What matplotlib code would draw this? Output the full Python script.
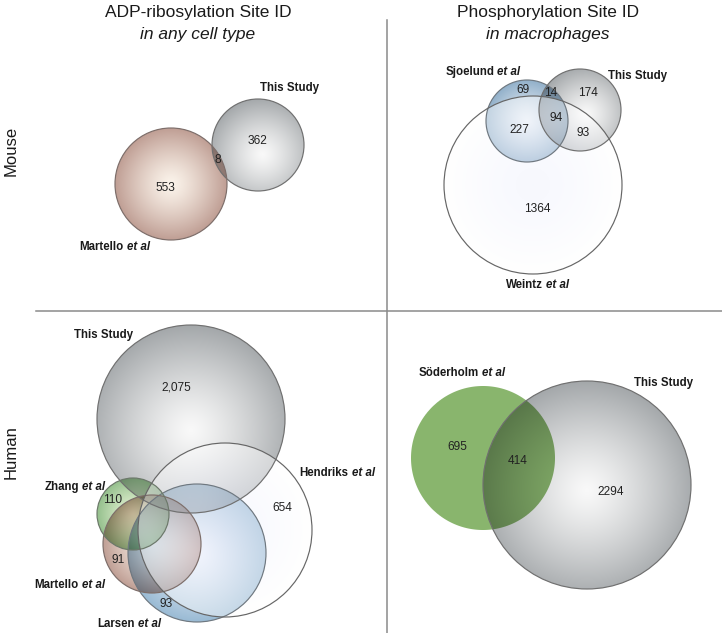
import numpy as np
import matplotlib
matplotlib.use("Agg")
import matplotlib.pyplot as plt
from matplotlib.patches import Circle

plt.rcParams['font.family'] = ['Liberation Sans', 'DejaVu Sans']

# ---------------- data ----------------
panel_titles = ["ADP-ribosylation Site ID", "Phosphorylation Site ID"]
panel_subtitles = ["in any cell type", "in macrophages"]
row_labels = ["Mouse", "Human"]

# Mouse, ADP-ribosylation: sets and region counts
m_adp_sets = [("This Study", ""), ("Martello", "et al")]
m_adp_counts = ["362", "8", "553"]

# Mouse, phosphorylation
m_ph_sets = [("Sjoelund", "et al"), ("This Study", ""), ("Weintz", "et al")]
m_ph_counts = ["69", "14", "174", "227", "94", "93", "1364"]

# Human, ADP-ribosylation
h_adp_sets = [("This Study", ""), ("Hendriks", "et al"), ("Zhang", "et al"),
              ("Martello", "et al"), ("Larsen", "et al")]
h_adp_counts = ["2,075", "654", "110", "91", "93"]

# Human, phosphorylation
h_ph_sets = [("Söderholm", "et al"), ("This Study", "")]
h_ph_counts = ["695", "414", "2294"]

# ---------------- layout (pixel space) ----------------
W, H = 722, 633
fig = plt.figure(figsize=(W / 100, H / 100), dpi=100)
ax = fig.add_axes([0, 0, 1, 1])
ax.set_xlim(0, W)
ax.set_ylim(H, 0)
ax.axis('off')

# (centre colour, edge colour, blend mode, alpha)
PAL = {
    'gray':  ((0.975, 0.975, 0.975), (0.64, 0.655, 0.665), 'mul', 1.0),
    'rose':  ((0.985, 0.955, 0.92), (0.75, 0.62, 0.58), 'mul', 1.0),
    'blue':  ((0.91, 0.935, 0.965), (0.57, 0.69, 0.79), 'mul', 1.0),
    'lblue': ((0.94, 0.955, 0.99), (0.60, 0.73, 0.83), 'mul', 1.0),
    'green': ((0.91, 0.96, 0.84), (0.58, 0.75, 0.55), 'mul', 1.0),
    'sgreen': ((0.54, 0.71, 0.43), (0.54, 0.71, 0.43), 'mul', 1.0),
    'white': ((0.93, 0.94, 0.99), (1.0, 1.0, 1.0), 'over', 0.45),
}

SS = 2
canvas = np.ones((H * SS, W * SS, 3))
gx = (np.arange(W * SS) + 0.5) / SS
gy = (np.arange(H * SS) + 0.5) / SS


def grad_circle(cx, cy, r, pal, outline='#707070', lw=0.85, off=(0.0, 0.0), power=1.25):
    cc, ce, mode, a = PAL[pal]
    cc, ce = np.asarray(cc, float), np.asarray(ce, float)
    j0, j1 = int(max(0, (cx - r - 2) * SS)), int(min(W * SS, (cx + r + 2) * SS))
    i0, i1 = int(max(0, (cy - r - 2) * SS)), int(min(H * SS, (cy + r + 2) * SS))
    X, Y = np.meshgrid(gx[j0:j1], gy[i0:i1])
    d0 = np.hypot(X - cx, Y - cy)
    cov = np.clip((r - d0) * SS + 0.5, 0, 1)[..., None]
    hx, hy = cx + off[0] * r, cy + off[1] * r
    t = np.clip(np.hypot(X - hx, Y - hy) / (r * (1 + np.hypot(*off))), 0, 1) ** power
    col = cc * (1 - t[..., None]) + ce * t[..., None]
    sub = canvas[i0:i1, j0:j1]
    if mode == 'mul':
        canvas[i0:i1, j0:j1] = sub * (1 - cov + cov * col)
    else:
        ca = cov * a
        canvas[i0:i1, j0:j1] = sub * (1 - ca) + ca * col
    if outline:
        ax.add_patch(Circle((cx, cy), r, facecolor='none', edgecolor=outline, lw=lw, zorder=5))


def set_label(x, y, name, suffix, fs=8.3):
    t1 = ax.text(x, y, name, fontsize=fs, fontweight='bold', ha='left', va='center',
                 color='#1a1a1a', zorder=20)
    r = fig.canvas.get_renderer()
    w = t1.get_window_extent(r).width
    if suffix:
        t2 = ax.annotate(suffix, xy=(1, 0), xycoords=t1, xytext=(2.3, 0),
                         textcoords='offset points', fontsize=fs, fontweight='bold',
                         fontstyle='italic', ha='left', va='bottom', color='#1a1a1a', zorder=20)
        w += t2.get_window_extent(r).width + 2.3 * 100 / 72
    t1.set_x(x - w / 2)


def count(x, y, s, fs=8.6):
    ax.text(x, y, s, fontsize=fs, ha='center', va='center', color='#222222', zorder=20)


# ---------------- titles, row labels, dividers ----------------
for cx, t, st in zip([198, 548], panel_titles, panel_subtitles):
    ax.text(cx, 13, t, fontsize=12.5, ha='center', va='center', color='#1a1a1a')
    ax.text(cx, 34, st, fontsize=12.5, ha='center', va='center', style='italic', color='#1a1a1a')
for cy, t in zip([151, 452], row_labels):
    ax.text(11, cy, t, fontsize=12, rotation=90, ha='center', va='center', color='#1a1a1a')

ax.plot([387, 387], [20, H], color='#8a8a8a', lw=1.1, zorder=6)
ax.plot([36, W], [311, 311], color='#8a8a8a', lw=1.1, zorder=6)

# ---------------- Mouse / ADP-ribosylation ----------------
grad_circle(258, 145, 46, 'gray', off=(0.1, 0.2))
grad_circle(171, 184, 56, 'rose', outline='#7d6e6a')
set_label(289, 88, *m_adp_sets[0])
set_label(115, 247, *m_adp_sets[1])
for (x, y), s in zip([(258, 141), (218, 160), (165, 188)], m_adp_counts):
    count(x, y, s)

# ---------------- Mouse / Phosphorylation ----------------
grad_circle(527, 121, 41, 'blue', outline='#6f7880')
grad_circle(580, 110, 41, 'gray', off=(0.15, 0.1))
grad_circle(533, 185, 89, 'white', outline='#666666')
set_label(483, 72, *m_ph_sets[0])
set_label(637, 76, *m_ph_sets[1])
set_label(538, 285, *m_ph_sets[2])
for (x, y), s in zip([(523, 90), (551, 93), (588, 93), (519, 130), (556, 118), (583, 133), (537, 209)],
                     m_ph_counts):
    count(x, y, s)

# ---------------- Human / ADP-ribosylation ----------------
grad_circle(191, 419, 94, 'gray', off=(0.0, 0.12))
grad_circle(197, 553, 69, 'lblue', outline='#6f7880')
grad_circle(152, 544, 49, 'rose', outline='#7d6e6a')
grad_circle(133, 514, 36, 'green', outline='#6c786a')
grad_circle(225, 530, 87, 'white', outline='#666666')
set_label(103, 335, *h_adp_sets[0])
set_label(337, 473, *h_adp_sets[1])
set_label(75, 487, *h_adp_sets[2])
set_label(70, 585, *h_adp_sets[3])
set_label(129, 624, *h_adp_sets[4])
for (x, y), s in zip([(176, 387), (282, 508), (113, 500), (118, 560), (166, 604)], h_adp_counts):
    count(x, y, s)

# ---------------- Human / Phosphorylation ----------------
grad_circle(587, 485, 104, 'gray', off=(0.0, 0.05))
grad_circle(483, 458, 72, 'sgreen', outline=None)
set_label(462, 373, *h_ph_sets[0])
set_label(663, 383, *h_ph_sets[1])
for (x, y), s in zip([(457, 447), (518, 461), (611, 492)], h_ph_counts):
    count(x, y, s)

# composite the blended circle fills and show them
img = canvas.reshape(H, SS, W, SS, 3).mean(axis=(1, 3))
ax.imshow(img, extent=(0, W, H, 0), origin='upper', interpolation='bilinear', zorder=0)

ax.set_xlim(0, W)
ax.set_ylim(H, 0)
ax.set_aspect('auto')
fig.savefig("out.png", dpi=100, facecolor='white')
